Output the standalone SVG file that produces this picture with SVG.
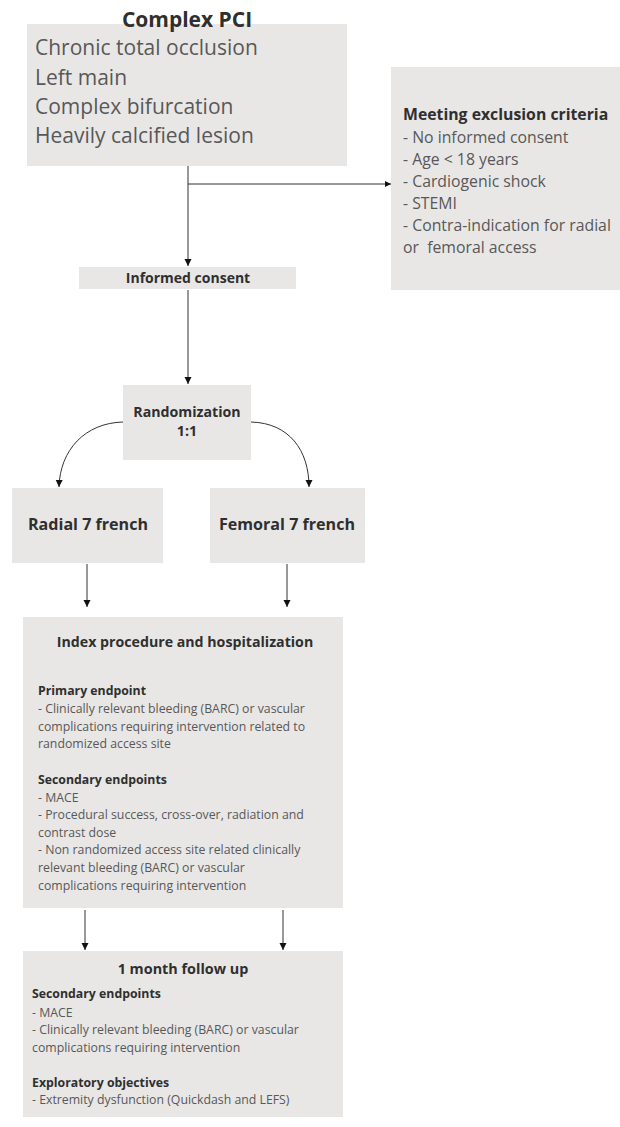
<svg xmlns="http://www.w3.org/2000/svg" width="620" height="1127" viewBox="0 0 620 1127">
<style>
.box{fill:#e8e7e6;}
.b{font-family:"Open Sans","Liberation Sans",sans-serif;font-weight:bold;fill:#2f2f2f;}
.r{font-family:"Open Sans","Liberation Sans",sans-serif;fill:#585858;}
.c{text-anchor:middle;}
.ln{stroke:#333;stroke-width:1;fill:none;}
</style>
<defs>
<marker id="ah" viewBox="0 0 10 10" refX="10" refY="5" markerWidth="7" markerHeight="8" markerUnits="userSpaceOnUse" orient="auto">
<path d="M0,0 L10,5 L0,10 z" fill="#111"/>
</marker>
<marker id="ahs" viewBox="0 0 10 10" refX="10" refY="5" markerWidth="12" markerHeight="6" markerUnits="userSpaceOnUse" orient="auto">
<path d="M0,0 L10,5 L0,10 z" fill="#111"/>
</marker>
</defs>
<rect width="620" height="1127" fill="#fff"/>
<g id="complex-pci">
<rect class="box" x="27" y="24" width="320" height="142"/>
<text class="b c" x="187" y="27" font-size="21">Complex PCI</text>
<text class="r" x="35" y="55" font-size="21">Chronic total occlusion</text>
<text class="r" x="35" y="85" font-size="21">Left main</text>
<text class="r" x="35" y="114" font-size="21">Complex bifurcation</text>
<text class="r" x="35" y="143" font-size="21">Heavily calcified lesion</text>
</g>
<g id="exclusion">
<rect class="box" x="391" y="67" width="229" height="223"/>
<text class="b" x="403" y="120" font-size="15.8">Meeting exclusion criteria</text>
<text class="r" x="403" y="143" font-size="15.8">- No informed consent</text>
<text class="r" x="403" y="165" font-size="15.8">- Age &lt; 18 years</text>
<text class="r" x="403" y="187" font-size="15.8">- Cardiogenic shock</text>
<text class="r" x="403" y="209" font-size="15.8">- STEMI</text>
<text class="r" x="403" y="231" font-size="15.8">- Contra-indication for radial</text>
<text class="r" x="403" y="253" font-size="15.8" xml:space="preserve">or  femoral access</text>
</g>
<g id="informed-consent">
<rect class="box" x="79" y="267" width="217" height="22"/>
<text class="b c" x="188" y="283" font-size="14">Informed consent</text>
</g>
<g id="randomization">
<rect class="box" x="123" y="385" width="128" height="75"/>
<text class="b c" x="187" y="417" font-size="14.2">Randomization</text>
<text class="b c" x="187" y="436" font-size="14.2">1:1</text>
</g>
<g id="radial">
<rect class="box" x="12" y="488" width="151" height="75"/>
<text class="b c" x="88" y="530" font-size="16.1">Radial 7 french</text>
</g>
<g id="femoral">
<rect class="box" x="210" y="488" width="155" height="75"/>
<text class="b c" x="287" y="530" font-size="16.1">Femoral 7 french</text>
</g>
<g id="index-procedure">
<rect class="box" x="23" y="617" width="320" height="291"/>
<text class="b c" x="185" y="647" font-size="14.2">Index procedure and hospitalization</text>
<text class="b" x="38" y="695" font-size="12.3">Primary endpoint</text>
<text class="r" x="38" y="713" font-size="12.3">- Clinically relevant bleeding (BARC) or vascular</text>
<text class="r" x="38" y="731" font-size="12.3">complications requiring intervention related to</text>
<text class="r" x="38" y="748" font-size="12.3">randomized access site</text>
<text class="b" x="38" y="784" font-size="12.3">Secondary endpoints</text>
<text class="r" x="38" y="802" font-size="12.3">- MACE</text>
<text class="r" x="38" y="819" font-size="12.3">- Procedural success, cross-over, radiation and</text>
<text class="r" x="38" y="837" font-size="12.3">contrast dose</text>
<text class="r" x="38" y="854" font-size="12.3">- Non randomized access site related clinically</text>
<text class="r" x="38" y="872" font-size="12.3">relevant bleeding (BARC) or vascular</text>
<text class="r" x="38" y="890" font-size="12.3">complications requiring intervention</text>
</g>
<g id="follow-up">
<rect class="box" x="23" y="951" width="320" height="166"/>
<text class="b c" x="183" y="974" font-size="14.4">1 month follow up</text>
<text class="b" x="32" y="998" font-size="12.3">Secondary endpoints</text>
<text class="r" x="32" y="1017" font-size="12.3">- MACE</text>
<text class="r" x="32" y="1034" font-size="12.3">- Clinically relevant bleeding (BARC) or vascular</text>
<text class="r" x="32" y="1052" font-size="12.3">complications requiring intervention</text>
<text class="b" x="32" y="1087" font-size="12.3">Exploratory objectives</text>
<text class="r" x="32" y="1104" font-size="12.3">- Extremity dysfunction (Quickdash and LEFS)</text>
</g>
<g id="connectors">
<path class="ln" d="M188,166 V266" marker-end="url(#ah)"/>
<path class="ln" d="M188,184 H391" marker-end="url(#ahs)"/>
<path class="ln" d="M188,290 V384" marker-end="url(#ah)"/>
<path class="ln" d="M123,422 C85,423 60,450 59,487" marker-end="url(#ah)"/>
<path class="ln" d="M251,422 C289,423 309,450 309,487" marker-end="url(#ah)"/>
<path class="ln" d="M87,564 V607" marker-end="url(#ah)"/>
<path class="ln" d="M287,564 V607" marker-end="url(#ah)"/>
<path class="ln" d="M85,910 V950" marker-end="url(#ah)"/>
<path class="ln" d="M283,910 V950" marker-end="url(#ah)"/>
</g>
</svg>
